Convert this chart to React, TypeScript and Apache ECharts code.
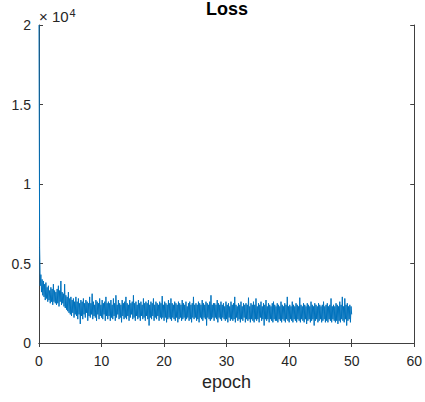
import React, { useEffect, useRef } from "react";
import * as echarts from "echarts";

const EPOCH_STEP = 0.1;
const X_TICKS = [0, 10, 20, 30, 40, 50, 60];
const Y_TICKS = [0, 5000, 10000, 15000, 20000];

// loss sampled every 0.1 epoch (epoch 0 .. 50)
const lossValues: number[] = [
  20000, 6000, 3600, 4300, 3200, 4000, 3000, 3900, 2900, 3700,
  2700, 3800, 2800, 3500, 2600, 3600, 2700, 3300, 2500, 3500,
  2600, 3400, 2400, 3700, 2600, 3300, 2500, 3200, 2400, 3400,
  2500, 3600, 2300, 3300, 2600, 3900, 2400, 3200, 2500, 3100,
  2300, 3700, 2200, 3000, 2100, 2900, 2000, 3200, 1900, 2800,
  1800, 2900, 1700, 2700, 1900, 2800, 1600, 2600, 1800, 2900,
  1700, 2600, 1500, 2800, 1800, 2500, 1200, 2700, 1700, 2600,
  1500, 2800, 1800, 2500, 1600, 2700, 1900, 2600, 1400, 2500,
  1700, 2900, 1600, 2500, 1800, 3100, 1500, 2600, 1700, 2400,
  1600, 2700, 1400, 2600, 1800, 2500, 1500, 2800, 1700, 2400,
  1600, 2700, 1500, 2500, 1800, 2600, 1400, 2900, 1700, 2500,
  1500, 2600, 1700, 2500, 1400, 2700, 1600, 2400, 1500, 2800,
  1700, 2500, 1400, 3000, 1600, 2400, 1800, 2700, 1500, 2500,
  1600, 2400, 1300, 2700, 1700, 2500, 1500, 2600, 1600, 2900,
  1500, 2500, 1700, 2400, 1400, 2700, 1600, 2500, 1800, 2600,
  1500, 3000, 1600, 2500, 1400, 2600, 1700, 2400, 1500, 2700,
  1600, 2500, 1400, 2600, 1700, 2400, 1500, 2800, 1600, 2500,
  1400, 2600, 1700, 2500, 1500, 2700, 1100, 2400, 1600, 2600,
  1500, 2500, 1700, 2800, 1400, 2400, 1600, 2600, 1500, 2500,
  1700, 2400, 1400, 2600, 1600, 2500, 1500, 2950, 1600, 2400,
  1400, 2600, 1600, 2500, 1300, 2400, 1500, 2700, 1600, 2500,
  1500, 2800, 1400, 2500, 1600, 2400, 1500, 2600, 1400, 2500,
  1600, 2400, 1300, 2600, 1500, 2500, 1600, 2400, 1400, 2700,
  1500, 2500, 1600, 2400, 1400, 2600, 1500, 2300, 1600, 2500,
  1400, 2600, 1500, 2400, 1300, 2500, 1600, 2900, 1500, 2400,
  1600, 2500, 1400, 2400, 1500, 2600, 1300, 2500, 1600, 2400,
  1500, 2700, 1400, 2500, 1600, 2400, 1500, 2600, 1100, 2500,
  1600, 2400, 1500, 2600, 1400, 3000, 1500, 2400, 1600, 2500,
  1400, 2500, 1600, 2400, 1500, 2700, 1300, 2500, 1600, 2400,
  1500, 2600, 1400, 2400, 1600, 2500, 1500, 2300, 1400, 2600,
  1500, 2400, 1300, 2500, 1600, 2300, 1400, 2600, 1500, 2400,
  1400, 2500, 1500, 2900, 1300, 2400, 1600, 2300, 1400, 2500,
  1500, 2400, 1300, 2600, 1500, 2300, 1400, 2500, 1600, 2400,
  1300, 2500, 1500, 2400, 1400, 2850, 1500, 2300, 1300, 2500,
  1500, 2400, 1400, 2600, 1300, 2400, 1500, 2800, 1400, 2300,
  1500, 2500, 1300, 2400, 1600, 2600, 1400, 2300, 1500, 2500,
  1100, 2400, 1500, 2700, 1400, 2300, 1500, 2500, 1300, 2400,
  1500, 2300, 1400, 2500, 1300, 2600, 1500, 2400, 1400, 2300,
  1400, 2500, 1300, 2400, 1500, 2300, 1400, 2600, 1300, 2400,
  1500, 2300, 1400, 2500, 1300, 2400, 1500, 2900, 1400, 2300,
  1300, 2400, 1500, 2300, 1400, 2600, 1300, 2400, 1500, 2300,
  1400, 2500, 1300, 2400, 1500, 2300, 1400, 2850, 1300, 2400,
  1500, 2300, 1400, 2500, 1300, 2400, 1500, 2300, 1200, 2500,
  1400, 2400, 1500, 2300, 1300, 2600, 1400, 2400, 1500, 2300,
  1100, 2500, 1400, 2400, 1500, 2300, 1300, 2500, 1400, 2400,
  1500, 2300, 1300, 2400, 1400, 2600, 1500, 2300, 1300, 2400,
  1400, 2500, 1300, 2300, 1500, 2400, 1400, 2800, 1300, 2300,
  1500, 2400, 1400, 2300, 1300, 2500, 1400, 2400, 1200, 2300,
  1400, 2600, 1300, 2400, 1500, 2900, 1400, 2300, 1300, 2800,
  1500, 2400, 1100, 2500, 1400, 2300, 1500, 2400, 1300, 2300,
  1800,
];

export default function App() {
  const ref = useRef<HTMLDivElement>(null);
  useEffect(() => {
    if (!ref.current) return;
    const chart = echarts.init(ref.current, null, { renderer: "svg" });
    const axisColor = "#404040";
    const font = "Liberation Sans, Arial, Helvetica, sans-serif";
    const data = lossValues.map((v, i) => [+(i * EPOCH_STEP).toFixed(1), v]);
    const xCommon = {
      type: "value" as const,
      min: X_TICKS[0],
      max: X_TICKS[X_TICKS.length - 1],
      interval: X_TICKS[1] - X_TICKS[0],
      splitLine: { show: false },
      axisLine: { show: true, lineStyle: { color: axisColor, width: 1 } },
      axisTick: { show: true, inside: true, length: 4, lineStyle: { color: axisColor } },
    };
    const yCommon = {
      type: "value" as const,
      min: Y_TICKS[0],
      max: Y_TICKS[Y_TICKS.length - 1],
      interval: Y_TICKS[1] - Y_TICKS[0],
      splitLine: { show: false },
      axisLine: { show: true, onZero: false, lineStyle: { color: axisColor, width: 1 } },
      axisTick: { show: true, inside: true, length: 4, lineStyle: { color: axisColor } },
    };
    chart.setOption({
      animation: false,
      backgroundColor: "#ffffff",
      title: {
        text: "Loss",
        left: 227,
        textAlign: "center",
        top: 0,
        padding: 0,
        textStyle: { fontFamily: font, fontSize: 18, fontWeight: "bold", color: "#000" },
      },
      grid: { left: 39, right: 10, top: 25, bottom: 59, containLabel: false },
      xAxis: [
        {
          ...xCommon,
          position: "bottom",
          name: "epoch",
          nameLocation: "middle",
          nameGap: 30,
          nameTextStyle: { fontFamily: font, fontSize: 18, color: "#262626" },
          axisLabel: { fontFamily: font, fontSize: 14, color: "#262626", margin: 11 },
        },
        {
          ...xCommon,
          position: "top",
          axisLabel: { show: false },
        },
      ],
      yAxis: [
        {
          ...yCommon,
          position: "left",
          axisLabel: {
            fontFamily: font,
            fontSize: 14,
            color: "#262626",
            margin: 8,
            formatter: (v: number) => String(v / 10000),
          },
        },
        {
          ...yCommon,
          position: "right",
          axisLabel: { show: false },
        },
      ],
      graphic: [
        {
          type: "text",
          left: 39,
          top: 7,
          style: {
            text: "× 10{s|4}",
            fontFamily: font,
            fontSize: 15,
            fill: "#262626",
            rich: { s: { fontSize: 11, verticalAlign: "top", padding: [0, 0, 8, 1], fill: "#262626", fontFamily: font } },
          },
        },
      ],
      series: [
        {
          type: "line",
          xAxisIndex: 0,
          yAxisIndex: 0,
          data,
          showSymbol: false,
          symbol: "none",
          lineStyle: { color: "#0072BD", width: 1 },
          itemStyle: { color: "#0072BD" },
        },
      ],
    });
    return () => chart.dispose();
  }, []);
  return (
    <div
      ref={ref}
      style={{ position: "absolute", left: 0, top: 0, width: 425, height: 402 }}
    />
  );
}
